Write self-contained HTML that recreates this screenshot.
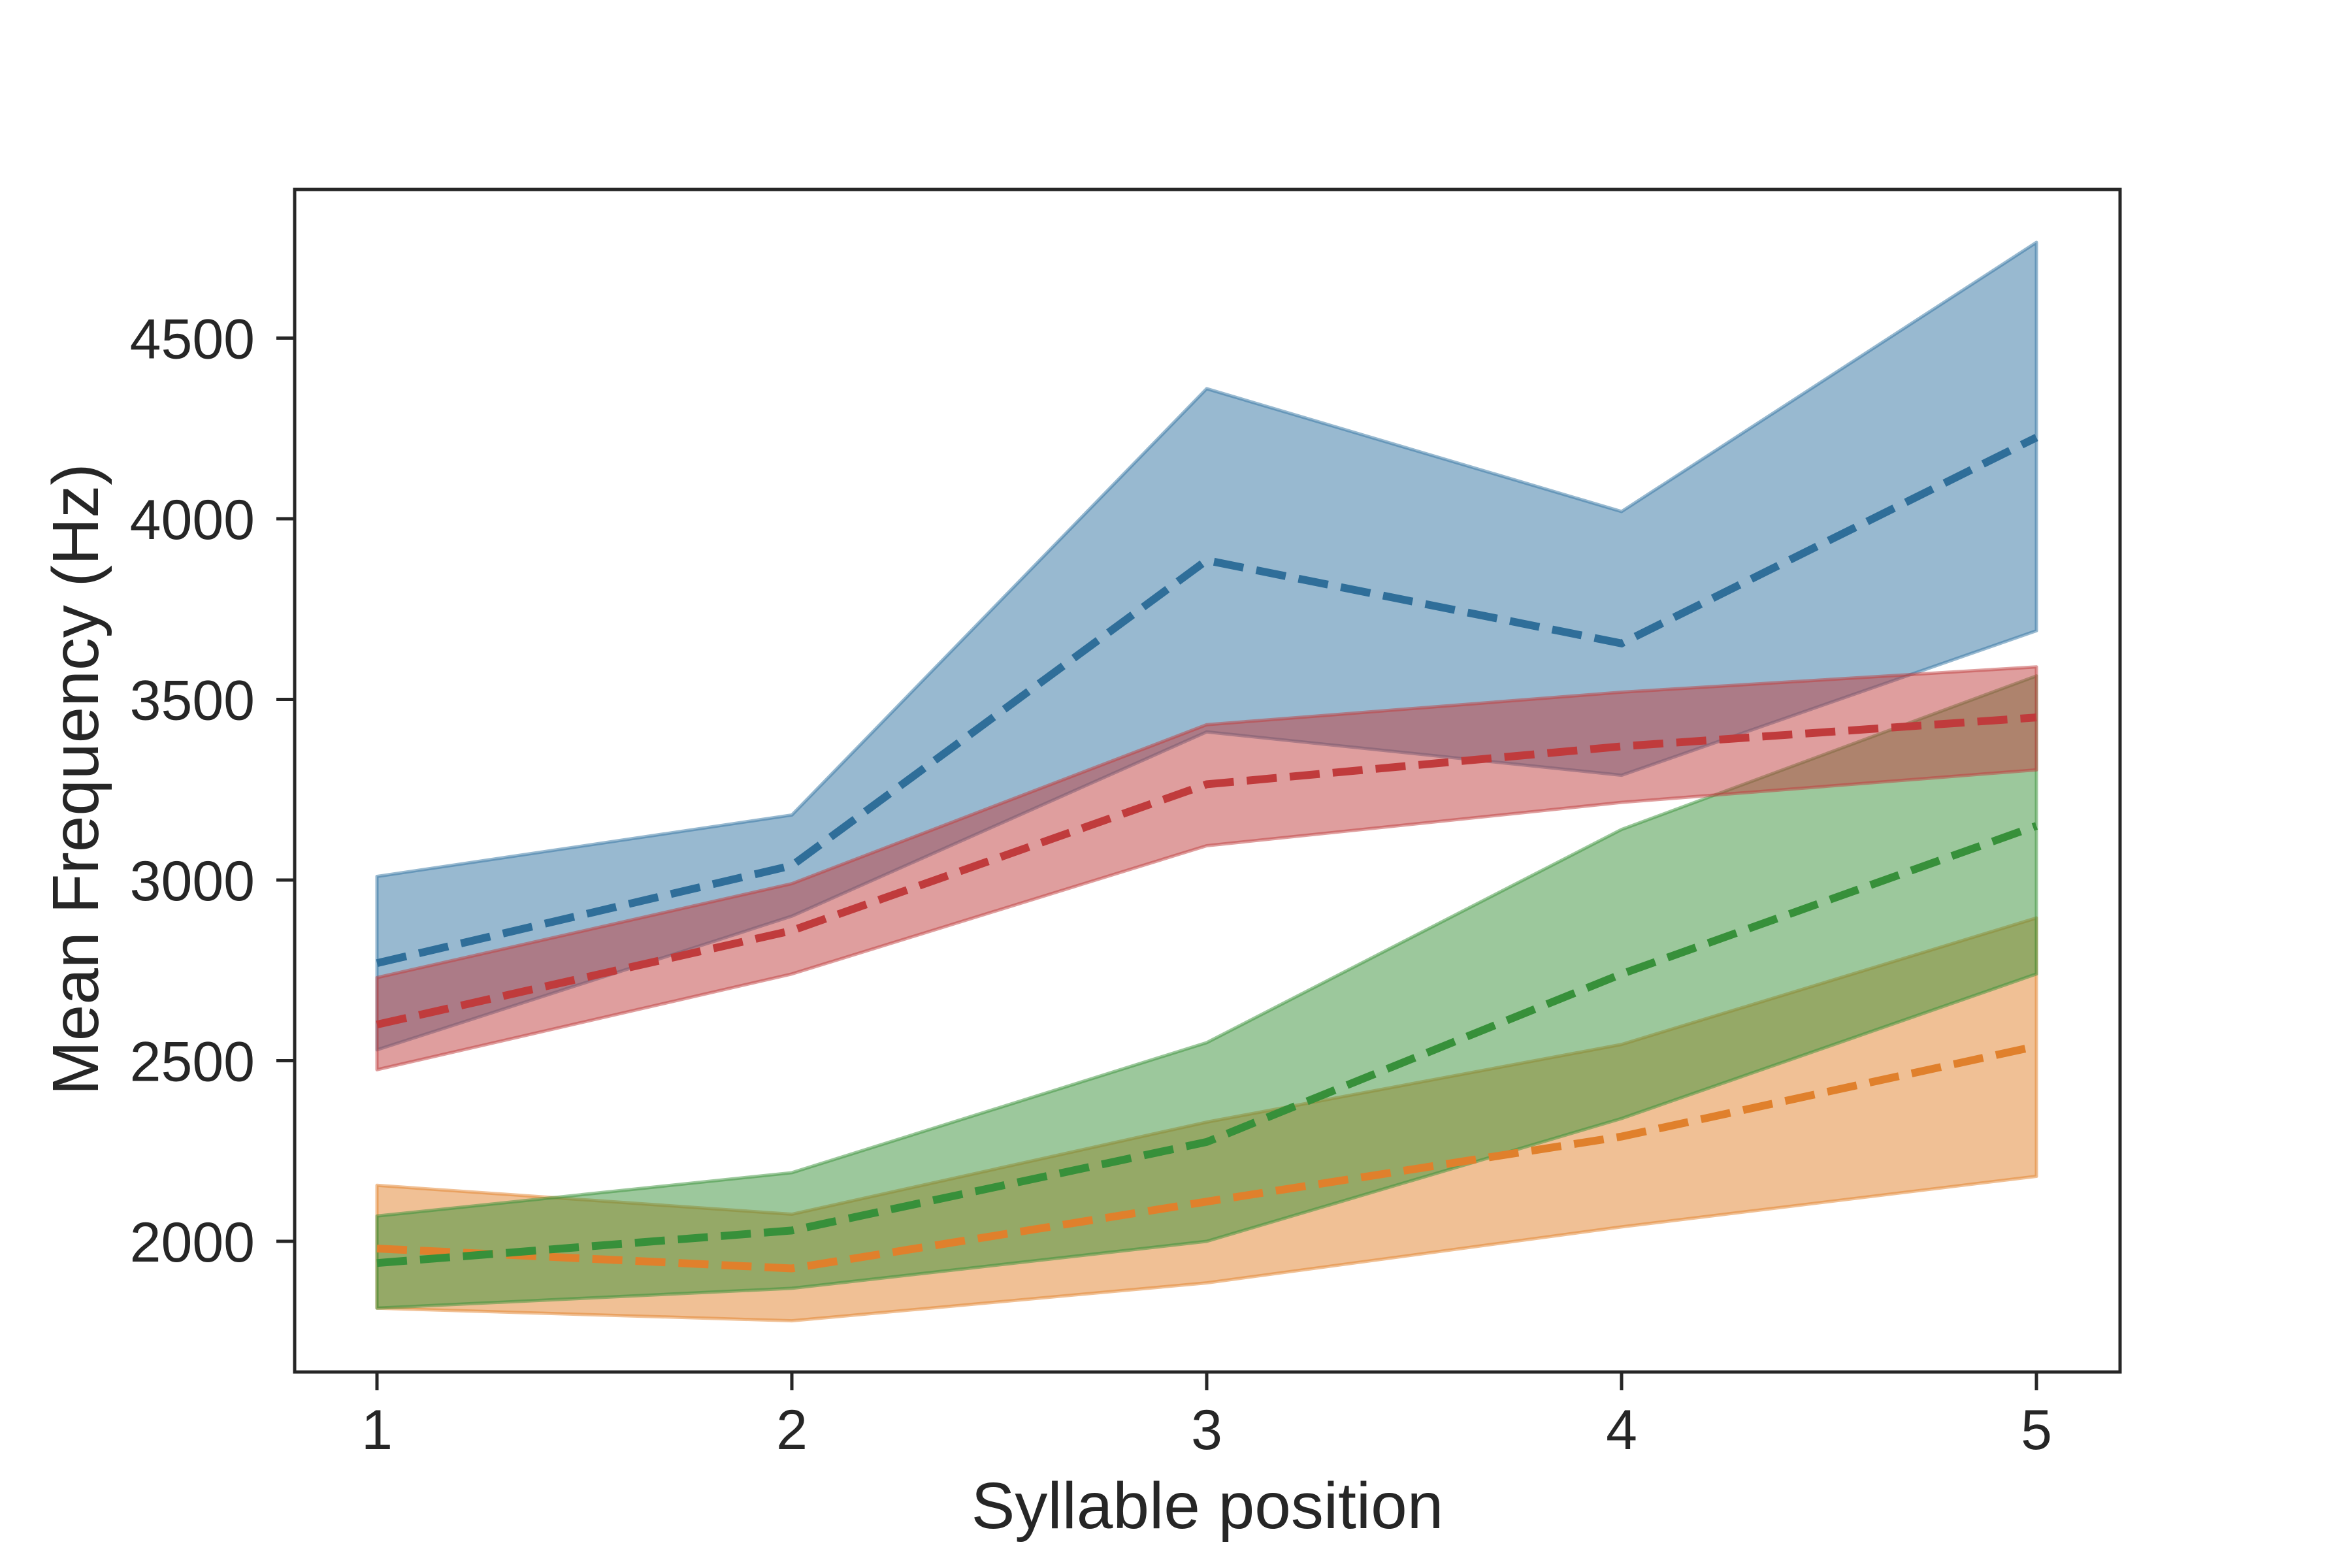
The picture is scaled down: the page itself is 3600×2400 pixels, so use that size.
<!DOCTYPE html>
<html><head><meta charset="utf-8"><style>
html,body{margin:0;padding:0;background:#fff}
svg{display:block}
text{font-family:"Liberation Sans",Arial,sans-serif;fill:#262626}
</style></head><body>
<svg id="chart" width="3600" height="2400" viewBox="0 0 3600 2400" xmlns="http://www.w3.org/2000/svg">
<rect x="0" y="0" width="3600" height="2400" fill="#fff"/>
<g id="plot"></g>
<rect x="451" y="290" width="2794" height="1810" fill="none" stroke="#262626" stroke-width="5"/>
<g id="axes"></g>
<text x="1848" y="2339" font-size="100" text-anchor="middle">Syllable position</text>
<text x="0" y="0" font-size="100" text-anchor="middle" transform="translate(150,1193) rotate(-90)">Mean Frequency (Hz)</text>
</svg>
<script>
const positions = [1, 2, 3, 4, 5];
const yTicks = [2000, 2500, 3000, 3500, 4000, 4500];
const seriesNames = ['blue', 'orange', 'green', 'red'];
const blueMean = [2770, 3040, 3885, 3655, 4225];
const blueUpper = [3010, 3180, 4360, 4020, 4765];
const blueLower = [2530, 2900, 3410, 3290, 3690];
const orangeMean = [1980, 1925, 2110, 2290, 2540];
const orangeUpper = [2155, 2075, 2330, 2545, 2895];
const orangeLower = [1815, 1780, 1885, 2040, 2180];
const greenMean = [1940, 2030, 2275, 2740, 3150];
const greenUpper = [2070, 2190, 2550, 3140, 3565];
const greenLower = [1815, 1870, 2000, 2340, 2740];
const redMean = [2600, 2860, 3265, 3370, 3450];
const redUpper = [2730, 2990, 3430, 3520, 3590];
const redLower = [2475, 2740, 3095, 3215, 3305];

const NS = 'http://www.w3.org/2000/svg';
function xs(v){ return 577 + (v - 1) * (3117 - 577) / 4; }
function ys(v){ return 1900 - (v - 2000) * (1900 - 794) / 2000; }

const series = [
  {name:'blue', fill:'#3274a1', line:'#2f6e99', mean:blueMean, up:blueUpper, lo:blueLower},
  {name:'orange', fill:'#e1812c', line:'#e0802c', mean:orangeMean, up:orangeUpper, lo:orangeLower},
  {name:'green', fill:'#3a923a', line:'#37903a', mean:greenMean, up:greenUpper, lo:greenLower},
  {name:'red', fill:'#c03d3e', line:'#c03b3c', mean:redMean, up:redUpper, lo:redLower}
];
const plot = document.getElementById('plot');
series.forEach(s => {
  const pts = positions.map((p,i)=>xs(p)+','+ys(s.up[i])).concat(
    positions.slice().reverse().map((p,j)=>{const i=positions.length-1-j;return xs(p)+','+ys(s.lo[i]);}));
  const poly = document.createElementNS(NS,'polygon');
  poly.setAttribute('points', pts.join(' '));
  poly.setAttribute('fill', s.fill);
  poly.setAttribute('fill-opacity', '0.5');
  poly.setAttribute('stroke', s.fill);
  poly.setAttribute('stroke-opacity', '0.5');
  poly.setAttribute('stroke-width', '5');
  poly.setAttribute('stroke-linejoin', 'round');
  
  
  plot.appendChild(poly);
});
series.forEach(s => {
  const pl = document.createElementNS(NS,'polyline');
  pl.setAttribute('points', positions.map((p,i)=>xs(p)+','+ys(s.mean[i])).join(' '));
  pl.setAttribute('fill', 'none');
  pl.setAttribute('stroke', s.line);
  pl.setAttribute('stroke-width', '12');
  pl.setAttribute('stroke-dasharray', '46 20');
  
  
  plot.appendChild(pl);
});
const axes = document.getElementById('axes');
positions.forEach(p => {
  const t = document.createElementNS(NS,'line');
  t.setAttribute('x1', xs(p)); t.setAttribute('x2', xs(p));
  t.setAttribute('y1', 2100); t.setAttribute('y2', 2128);
  t.setAttribute('stroke', '#262626'); t.setAttribute('stroke-width', '5');
  
  
  axes.appendChild(t);
  const l = document.createElementNS(NS,'text');
  l.setAttribute('x', xs(p)); l.setAttribute('y', 2218);
  l.setAttribute('font-size', '86'); l.setAttribute('text-anchor', 'middle');
  l.textContent = p;
  
  
  axes.appendChild(l);
});
yTicks.forEach(v => {
  const t = document.createElementNS(NS,'line');
  t.setAttribute('x1', 423); t.setAttribute('x2', 451);
  t.setAttribute('y1', ys(v)); t.setAttribute('y2', ys(v));
  t.setAttribute('stroke', '#262626'); t.setAttribute('stroke-width', '5');
  
  
  axes.appendChild(t);
  const l = document.createElementNS(NS,'text');
  l.setAttribute('x', 390); l.setAttribute('y', ys(v) + 31);
  l.setAttribute('font-size', '86'); l.setAttribute('text-anchor', 'end');
  l.textContent = v;
  
  
  axes.appendChild(l);
});
</script>
</body></html>
